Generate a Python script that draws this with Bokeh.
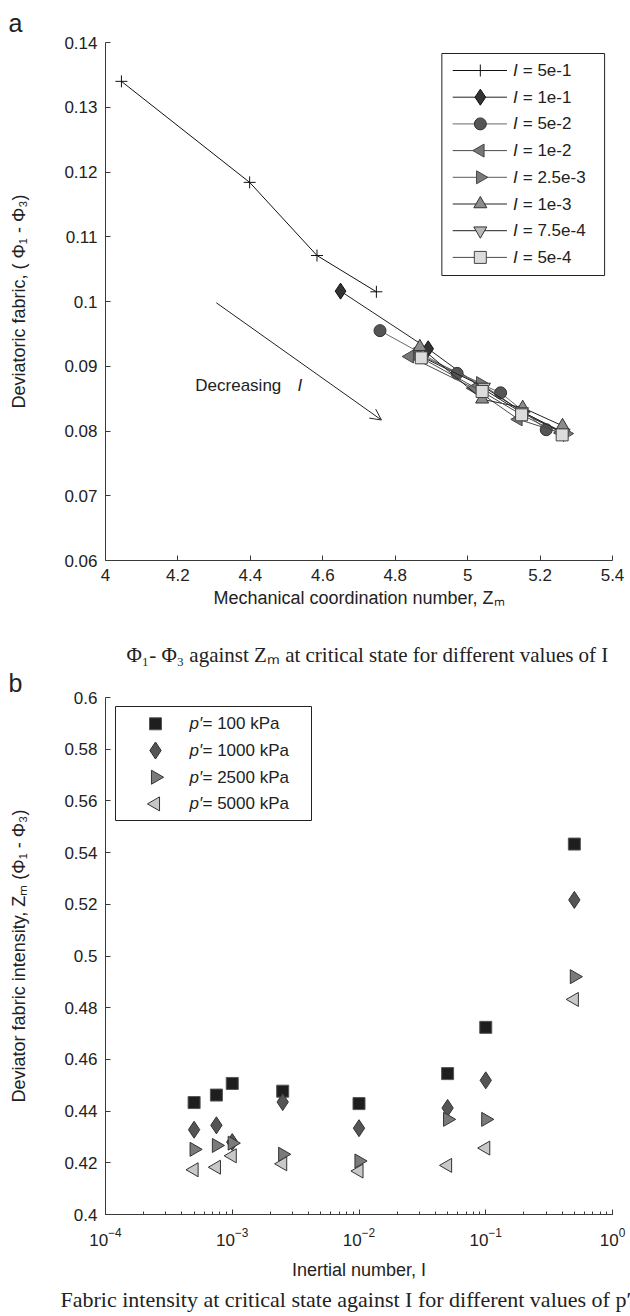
import numpy as np
from bokeh.plotting import figure
from bokeh.layouts import column
from bokeh.models import (Range1d, Label, Title, Arrow, OpenHead, LinearScale,
                          SingleIntervalTicker, CustomJSTickFormatter)
from bokeh.core.properties import value
from bokeh.embed import file_html
from bokeh.resources import INLINE

# ---------------- Panel a data ----------------
labels_a = ["5e-1", "1e-1", "5e-2", "1e-2", "2.5e-3", "1e-3", "7.5e-4", "5e-4"]
zm_5e1 = [4.044, 4.398, 4.584, 4.748]
dev_5e1 = [0.1340, 0.1184, 0.1071, 0.1015]
zm_1e1 = [4.649, 4.891, 5.040, 5.150, 5.265]
dev_1e1 = [0.1016, 0.0927, 0.0866, 0.0828, 0.0796]
zm_5e2 = [4.758, 4.971, 5.091, 5.217]
dev_5e2 = [0.0955, 0.0889, 0.0859, 0.0802]
zm_1e2 = [4.840, 5.017, 5.140, 5.258]
dev_1e2 = [0.0915, 0.0866, 0.0818, 0.0797]
zm_25e4 = [4.862, 5.035, 5.152, 5.272]
dev_25e4 = [0.0919, 0.0874, 0.0829, 0.0796]
zm_1e3 = [4.868, 5.040, 5.152, 5.262]
dev_1e3 = [0.0930, 0.0849, 0.0836, 0.0808]
zm_75e5 = [4.872, 5.045, 5.150, 5.265]
dev_75e5 = [0.0915, 0.0868, 0.0830, 0.0797]
zm_5e4 = [4.872, 5.040, 5.149, 5.261]
dev_5e4 = [0.0913, 0.0861, 0.0825, 0.0794]

# ---------------- Panel b data ----------------
inertial = [5e-4, 7.5e-4, 1e-3, 2.5e-3, 1e-2, 5e-2, 1e-1, 5e-1]
fab_p100 = [0.4433, 0.4462, 0.4507, 0.4477, 0.4429, 0.4545, 0.4724, 0.5433]
fab_p1000 = [0.4328, 0.4345, 0.4280, 0.4435, 0.4334, 0.4412, 0.4519, 0.5217]
fab_p2500 = [0.4252, 0.4267, 0.4276, 0.4233, 0.4207, 0.4368, 0.4368, 0.4920]
fab_p5000 = [0.4173, 0.4183, 0.4227, 0.4196, 0.4168, 0.4190, 0.4257, 0.4832]
labels_b = ["= 100 kPa", "= 1000 kPa", "= 2500 kPa", "= 5000 kPa"]

FONT = "Liberation Sans"
SERIF = "Liberation Serif"
TXT = "#222222"


def fmt():
    return CustomJSTickFormatter(code="return Number(tick.toFixed(4)).toString();")


def style_axis(ax):
    ax.axis_line_color = "#3a3a3a"
    ax.major_tick_line_color = "#3a3a3a"
    ax.minor_tick_line_color = "#3a3a3a"
    ax.major_tick_in = 5
    ax.major_tick_out = 0
    ax.minor_tick_in = 0
    ax.minor_tick_out = 0
    ax.major_label_text_font = FONT
    ax.major_label_text_font_size = "17px"
    ax.major_label_text_color = TXT
    ax.axis_label_text_font = FONT
    ax.axis_label_text_font_size = "18px"
    ax.axis_label_text_font_style = "normal"
    ax.axis_label_text_color = TXT


def make_title(text, font, size, offset, standoff):
    return Title(text=text, align="left", offset=offset, standoff=standoff,
                 text_font=font, text_font_size=size, text_font_style="normal",
                 text_color=TXT)


# ================= Panel a =================
FA_W, FA_H = 514, 518   # frame size in pixels
p1 = figure(width=630, height=640, x_range=Range1d(4, 5.4), y_range=Range1d(0.06, 0.14),
            output_backend="svg", toolbar_location=None, title=None,
            min_border_left=104, min_border_right=12, min_border_top=42, min_border_bottom=80)
p1.extra_x_ranges = {"px": Range1d(0, FA_W)}
p1.extra_y_ranges = {"px": Range1d(0, FA_H)}
p1.xgrid.visible = False
p1.ygrid.visible = False
p1.outline_line_color = None
p1.xaxis.ticker = SingleIntervalTicker(interval=0.2, num_minor_ticks=0)
p1.yaxis.ticker = SingleIntervalTicker(interval=0.01, num_minor_ticks=0)
p1.xaxis.formatter = fmt()
p1.yaxis.formatter = fmt()
style_axis(p1.xaxis[0])
style_axis(p1.yaxis[0])
p1.xaxis.axis_label = "Mechanical coordination number, Z\u2098"
p1.yaxis.axis_label = "Deviatoric fabric, ( \u03a6\u2081 - \u03a6\u2083)"
p1.xaxis.major_label_standoff = 8
p1.yaxis.major_label_standoff = 8
p1.xaxis.axis_label_standoff = 4
p1.yaxis.axis_label_standoff = 32
p1.add_layout(make_title("a", FONT, "25px", -97, 11), "above")

series_a = [
    (zm_5e1, dev_5e1, "cross", 12, None, "#111111", "#111111", 0),
    (zm_1e1, dev_1e1, "diamond", 16, "#333333", "#111111", "#222222", 0),
    (zm_5e2, dev_5e2, "circle", 12, "#555555", "#333333", "#6a6a6a", 0),
    (zm_1e2, dev_1e2, "triangle", 13, "#777777", "#444444", "#4a4a4a", np.pi / 2),
    (zm_25e4, dev_25e4, "triangle", 13, "#7a7a7a", "#444444", "#5a5a5a", -np.pi / 2),
    (zm_1e3, dev_1e3, "triangle", 13, "#8c8c8c", "#333333", "#222222", 0),
    (zm_75e5, dev_75e5, "inverted_triangle", 13, "#b8b8b8", "#333333", "#222222", 0),
    (zm_5e4, dev_5e4, "square", 12, "#dcdcdc", "#444444", "#4a4a4a", 0),
]
for xs, ys, mk, sz, fill, edge, lc, ang in series_a:
    p1.line(xs, ys, line_color=lc, line_width=1)
    p1.scatter(xs, ys, marker=mk, size=sz, fill_color=fill, line_color=edge,
               line_width=1, angle=ang)

# manual legend (pixel coordinates inside the frame)
LA = dict(left=341, right=506, bottom=285, top=507, first=490, step=26.7,
          lx0=352, lx1=407, mx=380, tx=413, tx2=423)
p1.quad(left=LA["left"], right=LA["right"], bottom=LA["bottom"], top=LA["top"],
        fill_color="white", line_color="#222222", line_width=1,
        x_range_name="px", y_range_name="px")
for i, ((xs, ys, mk, sz, fill, edge, lc, ang), lab) in enumerate(zip(series_a, labels_a)):
    yc = LA["first"] - i * LA["step"]
    p1.segment(x0=LA["lx0"], y0=yc, x1=LA["lx1"], y1=yc, line_color=lc, line_width=1,
               x_range_name="px", y_range_name="px")
    p1.scatter([LA["mx"]], [yc], marker=mk, size=sz, fill_color=fill, line_color=edge,
               line_width=1, angle=ang, x_range_name="px", y_range_name="px")
    p1.text([LA["tx"]], [yc], text=["I"], text_font=value(FONT), text_font_style="italic",
            text_font_size=value("17px"), text_color=TXT, text_baseline="middle",
            x_range_name="px", y_range_name="px")
    p1.text([LA["tx2"]], [yc], text=["= " + lab], text_font=value(FONT),
            text_font_size=value("17px"), text_color=TXT, text_baseline="middle",
            x_range_name="px", y_range_name="px")

arrow_start = (4.306, 0.0998)
arrow_end = (4.762, 0.0817)
p1.add_layout(Arrow(end=OpenHead(size=11, line_width=1, line_color="#222222"),
                    x_start=arrow_start[0], y_start=arrow_start[1],
                    x_end=arrow_end[0], y_end=arrow_end[1],
                    line_width=1, line_color="#222222"))
p1.add_layout(Label(x=4.248, y=0.0871, text="Decreasing", text_font=FONT,
                    text_font_size="17px", text_color=TXT, text_baseline="middle"))
p1.add_layout(Label(x=4.53, y=0.0871, text="I", text_font=FONT, text_font_style="italic",
                    text_font_size="17px", text_color=TXT, text_baseline="middle"))

# ================= Panel b =================
FB_W, FB_H = 507, 517
p2 = figure(width=630, height=676, x_axis_type="log", x_range=Range1d(1e-4, 1),
            y_range=Range1d(0.4, 0.6), output_backend="svg", toolbar_location=None, title=None,
            min_border_left=105, min_border_right=18, min_border_top=57, min_border_bottom=102)
p2.extra_x_ranges = {"px": Range1d(0, FB_W)}
p2.extra_x_scales = {"px": LinearScale()}
p2.extra_y_ranges = {"px": Range1d(0, FB_H)}
p2.xgrid.visible = False
p2.ygrid.visible = False
p2.outline_line_color = None
p2.yaxis.ticker = SingleIntervalTicker(interval=0.02, num_minor_ticks=0)
p2.yaxis.formatter = fmt()
style_axis(p2.xaxis[0])
style_axis(p2.yaxis[0])
p2.xaxis.minor_tick_in = 3
p2.xaxis.axis_label = "Inertial number, I"
p2.yaxis.axis_label = "Deviator fabric intensity, Z\u2098 (\u03a6\u2081 - \u03a6\u2083)"
p2.xaxis.major_label_standoff = 13
p2.yaxis.major_label_standoff = 8
p2.xaxis.axis_label_standoff = 11
p2.yaxis.axis_label_standoff = 32

# titles above panel b: "b" closest to the frame, caption of panel a above it
p2.add_layout(make_title("b", FONT, "25px", -97, 1), "above")
p2.add_layout(make_title(
    "\u03a6\u2081- \u03a6\u2083 against Z\u2098 at critical state for different values of I",
    SERIF, "21px", 21, 0), "above")

series_b = [
    (fab_p100, "square", 12, "#1e1e1e", "#555555", 0),
    (fab_p1000, "diamond", 17, "#555555", "#333333", 0),
    (fab_p2500, "triangle", 14, "#7a7a7a", "#333333", -np.pi / 2),
    (fab_p5000, "triangle", 14, "#c8c8c8", "#333333", np.pi / 2),
]
for ys, mk, sz, fill, edge, ang in series_b:
    p2.scatter(inertial, ys, marker=mk, size=sz, fill_color=fill, line_color=edge,
               line_width=1, angle=ang)

LB = dict(left=10, right=206, bottom=394, top=508, first=490.7, step=26.7,
          mx=50, tx=84, tx2=97)
p2.quad(left=LB["left"], right=LB["right"], bottom=LB["bottom"], top=LB["top"],
        fill_color="white", line_color="#222222", line_width=1,
        x_range_name="px", y_range_name="px")
for i, ((ys, mk, sz, fill, edge, ang), lab) in enumerate(zip(series_b, labels_b)):
    yc = LB["first"] - i * LB["step"]
    p2.scatter([LB["mx"]], [yc], marker=mk, size=sz, fill_color=fill, line_color=edge,
               line_width=1, angle=ang, x_range_name="px", y_range_name="px")
    p2.text([LB["tx"]], [yc], text=["p\u2032"], text_font=value(FONT), text_font_style="italic",
            text_font_size=value("17px"), text_color=TXT, text_baseline="middle",
            x_range_name="px", y_range_name="px")
    p2.text([LB["tx2"]], [yc], text=[lab], text_font=value(FONT),
            text_font_size=value("17px"), text_color=TXT, text_baseline="middle",
            x_range_name="px", y_range_name="px")

p2.add_layout(make_title(
    "Fabric intensity at critical state  against I for different values of p\u2032",
    SERIF, "22px", -45, 4), "below")

layout = column(p1, p2)
open("out.html", "w").write(file_html(layout, INLINE))
